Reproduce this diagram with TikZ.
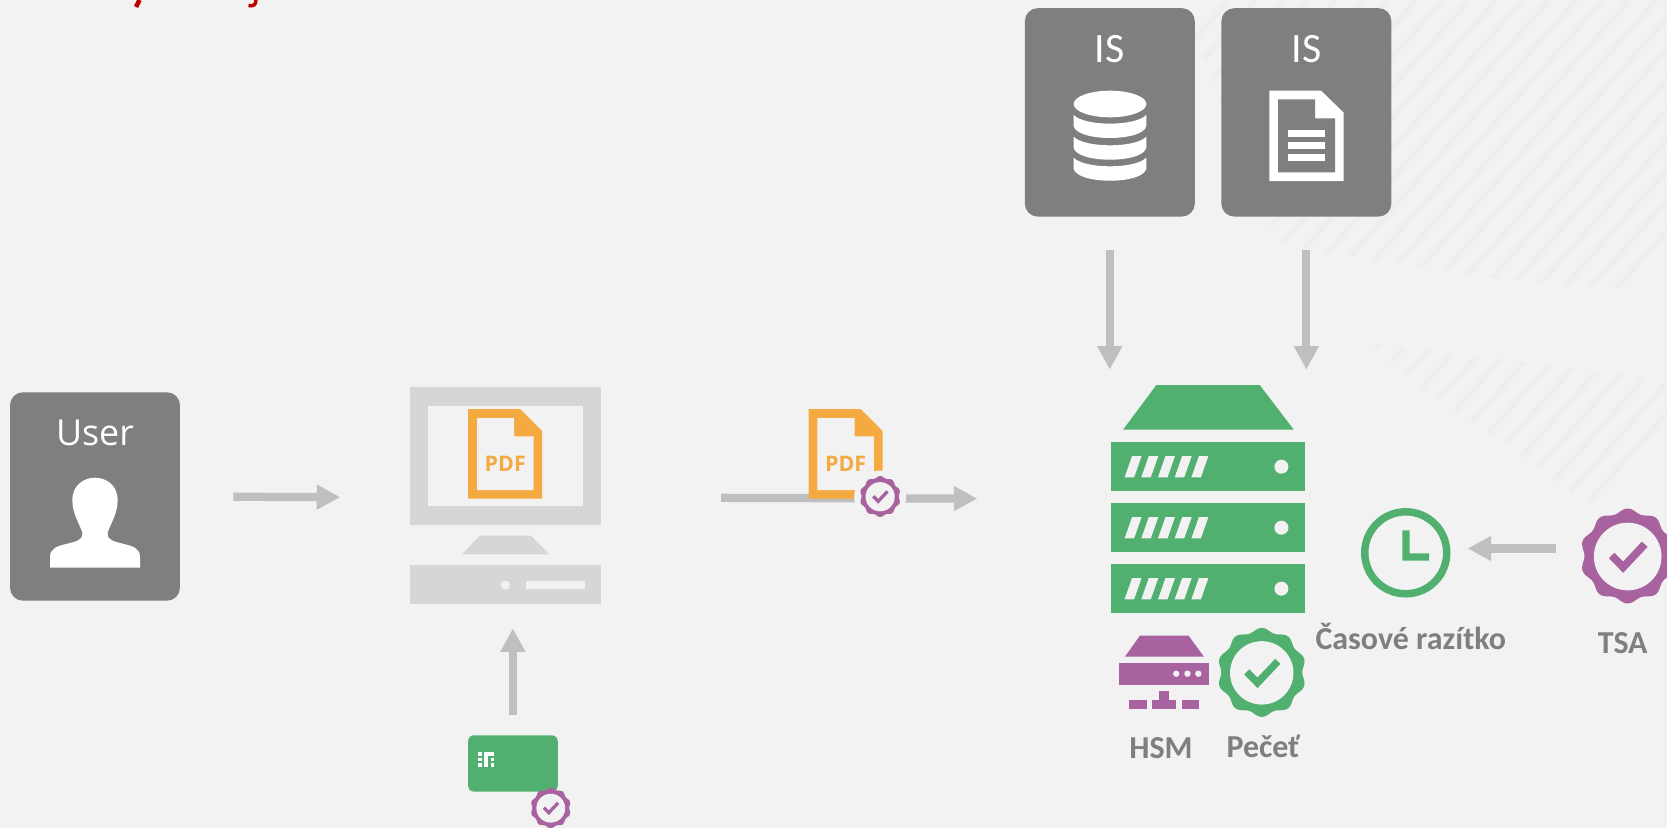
\documentclass[tikz,border=0pt]{standalone}
\usepackage{fontspec}
\setmainfont{Carlito}
\newfontfamily\userfont{Open Sans}
\usepackage{tikz}
\usetikzlibrary{shapes.geometric, arrows.meta}
\definecolor{backgr}{HTML}{F2F2F2}
\definecolor{stripegr}{HTML}{EEEEEE}
\definecolor{panelgr}{HTML}{7F7F7F}
\definecolor{linegr}{HTML}{BFBFBF}
\definecolor{pcgr}{HTML}{D6D6D6}
\definecolor{sealgreen}{HTML}{51B06F}
\definecolor{sealpurple}{HTML}{A8629F}
\definecolor{pdforange}{HTML}{F5AA41}
\definecolor{titlered}{HTML}{C00000}
\tikzstyle{panel} = [rectangle, 
rounded corners=.26cm, 
minimum width=3.4cm, 
minimum height=4.17cm, 
inner sep=0pt, 
fill=panelgr]
\tikzstyle{hollow} = [rectangle, 
inner sep=0pt]
\tikzstyle{sealbox} = [circle, 
inner sep=0pt]
\tikzstyle{paneltext} = [text=white, 
inner sep=0pt, 
anchor=base]
\tikzstyle{caption} = [text=panelgr, 
font=\fontsize{18.2}{22}\selectfont\bfseries, 
inner sep=0pt, 
anchor=base]
\tikzstyle{pdftext} = [text=pdforange, 
font=\userfont\fontsize{12.2}{15}\selectfont\bfseries, 
inner sep=0pt, 
anchor=base]
\tikzstyle{stripe} = [stripegr, line width=.1cm]
\tikzstyle{arrow} = [linegr, line width=.165cm, -{Triangle[length=.47cm,width=.47cm]}]
\newcommand{\drawseal}[4]{
  \begin{scope}[shift={(#1.center)}, scale=#2]
    \fill [#3] plot [domain=0:360, samples=181] (\x:{42.5+2*cos(10*(\x-90))}) -- cycle;
    \fill [backgr] (0,0.5) circle (31.7);
    \draw [#4, line width=#2*.145cm] (-15,-.5) -- (-4.3,10.5) -- (16,-11);
  \end{scope}
}
\newcommand{\drawpdf}[1]{
  \begin{scope}[shift={(#1.center)}]
    \fill [pdforange] (-37,-44.85) -- (14.9,-44.85) -- (37,-22.85) -- (37,44.85) -- (-37,44.85) -- cycle;
    \fill [backgr] (-28.2,-35.85) -- (8.9,-35.85) -- (8.9,-17.55) -- (28.3,-17.55) -- (28.3,36.15) -- (-28.2,36.15) -- cycle;
    \node (#1label) [pdftext] at (0,17.85) {PDF};
  \end{scope}
}

\begin{document}
\begin{tikzpicture}[x=.02cm, y=-.02cm, node distance=2cm]
    \useasboundingbox (0,0) rectangle (1667,828);
    \fill [backgr] (0,0) rectangle (1667,828);

    % hatched corners
    \begin{scope}
      \clip (1180,0) -- (1274,235) -- (1285,247) -- (1353,257) -- (1421,267) -- (1468,275) -- (1540,283) -- (1612,288) -- (1667,288) -- (1667,0) -- cycle;
      \foreach \s in {-16,...,8}
        \draw [stripe] ({1568.3+26.7*\s+88},0) -- ++(-352,400);
    \end{scope}
    \begin{scope}
      \clip (1368,343) -- (1667,380) -- (1667,535) -- (1585,503) -- (1492,437) -- (1413,382) -- cycle;
      \foreach \s in {-8,...,14}
        \draw [stripe] ({1568.3+26.7*\s+88},0) -- ++(-528,600);
    \end{scope}

    \node (user) [panel] at (95,496.5) {};
    \node (isa) [panel, right of=user, node distance=20.3cm, yshift=7.684cm] {};
    \node (isb) [panel, right of=isa, node distance=3.932cm] {};
    \node (pc) [hollow, right of=user, node distance=8.206cm, yshift=-.02cm, minimum width=3.826cm, minimum height=4.34cm] {};
    \node (server) [hollow, right of=pc, node distance=14.054cm, yshift=-.03cm, minimum width=3.864cm, minimum height=4.56cm] {};
    \node (card) [panel, below of=pc, node distance=5.32cm, xshift=.154cm, minimum width=1.794cm, minimum height=1.128cm, rounded corners=.12cm, fill=sealgreen] {};
    \node (hsm) [hollow, below of=server, node distance=3.468cm, xshift=-.88cm, minimum width=1.806cm, minimum height=1.466cm] {};
    \node (clock) [sealbox, right of=server, node distance=3.96cm, yshift=-1.076cm, minimum size=1.64cm, draw=sealgreen, line width=.15cm] {};
    \node (pdfa) [hollow, above of=pc, node distance=.873cm, minimum width=1.48cm, minimum height=1.794cm] {};
    \node (pdfb) [hollow, right of=pdfa, node distance=6.81cm, minimum width=1.48cm, minimum height=1.794cm] {};
    \node (sealb) [sealbox, right of=pdfb, node distance=.69cm, yshift=-.853cm, minimum size=.83cm] {};
    \node (sealc) [sealbox, right of=card, node distance=.757cm, yshift=-.89cm, minimum size=.82cm] {};
    \node (seal) [sealbox, right of=hsm, node distance=1.96cm, minimum size=1.8cm] {};
    \node (tsa) [sealbox, right of=clock, node distance=4.44cm, yshift=-.064cm, minimum size=1.92cm] {};

    \node (userlabel) [paneltext, above of=user, node distance=1.016cm, font=\userfont\fontsize{20.4}{24}\selectfont, anchor=base] {User};
    \node (isalabel) [paneltext, above of=isa, node distance=1cm, font=\fontsize{23.8}{28}\selectfont, anchor=base] {IS};
    \node (isblabel) [paneltext, above of=isb, node distance=1cm, font=\fontsize{23.8}{28}\selectfont, anchor=base] {IS};
    \node (hsmlabel) [caption, below of=hsm, node distance=1.718cm, xshift=-.056cm, anchor=base] {HSM};
    \node (seallabel) [caption, below of=seal, node distance=1.712cm, xshift=.03cm, anchor=base] {Pečeť};
    \node (clocklabel) [caption, below of=clock, node distance=1.944cm, xshift=.1cm, anchor=base] {Časové razítko};
    \node (tsalabel) [caption, below of=tsa, node distance=1.946cm, xshift=-.1cm, anchor=base] {TSA};

    \draw [arrow, shorten <=1.06cm, shorten >=1.38cm] (user.east) -- (pc.west);
    \draw [arrow, shorten <=2.4cm, shorten >=2.67cm] (pc.east) -- (server.west);
    \draw [arrow, shorten <=.406cm, shorten >=.44cm] (card.north) -- (card.north |- pc.south);
    \draw [arrow, shorten <=.666cm, shorten >=.3cm] (isa.south) -- (isa.south |- server.north);
    \draw [arrow, shorten <=.666cm, shorten >=.3cm] (isb.south) -- (isb.south |- server.north);
    \draw [arrow, shorten <=.476cm, shorten >=.344cm] ([yshift=.15cm]tsa.west) -- ([yshift=.15cm]tsa.west -| clock.east);

    % user
    \fill [white] (50,567.7) -- (50,557) .. controls (50,548) and (58,546) .. (66,544) .. controls (76,541.5) and (83,540) .. (82.5,533.5) .. controls (81,526) and (72.3,515) .. (72.3,500) .. controls (72.3,486) and (83,477.7) .. (95,477.7) .. controls (107,477.7) and (117.7,486) .. (117.7,500) .. controls (117.7,515) and (109,526) .. (107.5,533.5) .. controls (107,540) and (114,541.5) .. (124,544) .. controls (132,546) and (140,548) .. (140,557) -- (140,567.7) -- cycle;

    % database
    \fill [white] (1110,104) ellipse [x radius=36.4, y radius=13.3];
    \foreach \y in {115,136.7,157.7}
      \fill [white] (1073.6,\y) .. controls (1085,{\y+11.5}) and (1135,{\y+11.5}) .. (1146.3,\y) -- (1146.3,{\y+11}) .. controls (1143,{\y+27}) and (1077,{\y+27}) .. (1073.6,{\y+11}) -- cycle;

    % text file
    \fill [white] (1269.3,90.7) -- (1321.1,90.7) -- (1343.7,112.7) -- (1343.7,181) -- (1269.3,181) -- cycle;
    \fill [panelgr] (1278.2,99.3) -- (1315.2,99.3) -- (1315.2,118.3) -- (1335.2,118.3) -- (1335.2,172.3) -- (1278.2,172.3) -- cycle;
    \foreach \y in {130.3,142.3,154.3}
      \fill [white] (1287.5,\y) rectangle (1325.4,{\y+6.7});

    % computer
    \fill [pcgr] (409.7,387.3) rectangle (601,525);
    \fill [backgr] (428.2,406) rectangle (582.8,506.3);
    \fill [pcgr] (479.6,535.7) -- (531,535.7) -- (549.2,554.3) -- (461.9,554.3) -- cycle;
    \fill [pcgr] (409.7,565.3) rectangle (601,604.3);
    \fill [backgr] (505.3,585) circle (4.5);
    \fill [backgr] (526.3,580.7) rectangle (584.8,589);

    % server
    \fill [sealgreen] (1156.4,385) -- (1259.7,385) -- (1293.8,429.7) -- (1123,429.7) -- cycle;
    \foreach \y in {442.3,503.3,564.3} {
      \fill [sealgreen] (1111.4,\y) rectangle (1304.6,{\y+48.5});
      \fill [backgr] (1281.4,{\y+24.4}) circle (7);
      \foreach \k in {0,...,4}
        \fill [backgr] ({1124.6+16.7*\k},{\y+35}) -- ({1134.1+16.7*\k},{\y+35}) -- ({1141.6+16.7*\k},{\y+13.7}) -- ({1132.1+16.7*\k},{\y+13.7}) -- cycle;
    }

    % hsm
    \fill [sealpurple] (1139.9,635.7) -- (1188.6,635.7) -- (1203.9,656.7) -- (1124.9,656.7) -- cycle;
    \fill [sealpurple] (1118.9,662.7) rectangle (1209.2,685);
    \foreach \x in {1176.2,1187.5,1198.3}
      \fill [backgr] (\x,673.7) circle (3.2);
    \fill [sealpurple] (1159,690.7) rectangle (1169.1,700);
    \fill [sealpurple] (1151.9,700) rectangle (1175.8,709);
    \fill [sealpurple] (1129.4,700) rectangle (1146.6,709);
    \fill [sealpurple] (1181.5,700) rectangle (1199.1,709);

    % clock hands
    \fill [sealgreen] (1402.4,530.3) -- (1409.5,530.3) -- (1409.5,553.3) -- (1429,553.3) -- (1429,560.7) -- (1402.4,560.7) -- cycle;

    % chip
    \foreach \y/\h in {752/3.6,757.6/3.6,763.2/3.8}
      \fill [white] (477.7,\y) rectangle (481.5,{\y+\h});
    \foreach \y/\h in {757.6/3.6,763.2/3.8}
      \fill [white] (490.5,\y) rectangle (494.3,{\y+\h});
    \fill [white] (484,752) rectangle (494.3,755.6);
    \fill [white] (484,752) rectangle (488.3,767);

    \drawpdf{pdfa}
    \drawpdf{pdfb}
    \fill [backgr] (sealb) circle (26);
    \drawseal{sealb}{.46}{sealpurple}{sealpurple}
    \drawseal{sealc}{.455}{sealpurple}{sealpurple}
    \drawseal{seal}{1}{sealgreen}{sealgreen}
    \drawseal{tsa}{1.067}{sealpurple}{sealpurple}

    % cut off title
    \draw [titlered, line width=.09cm] (139.5,0) -- (136,7);
    \draw [titlered, line width=.07cm] (256,0) .. controls (256,5) and (253,6.5) .. (248.5,5.5);
\end{tikzpicture}
\end{document}
